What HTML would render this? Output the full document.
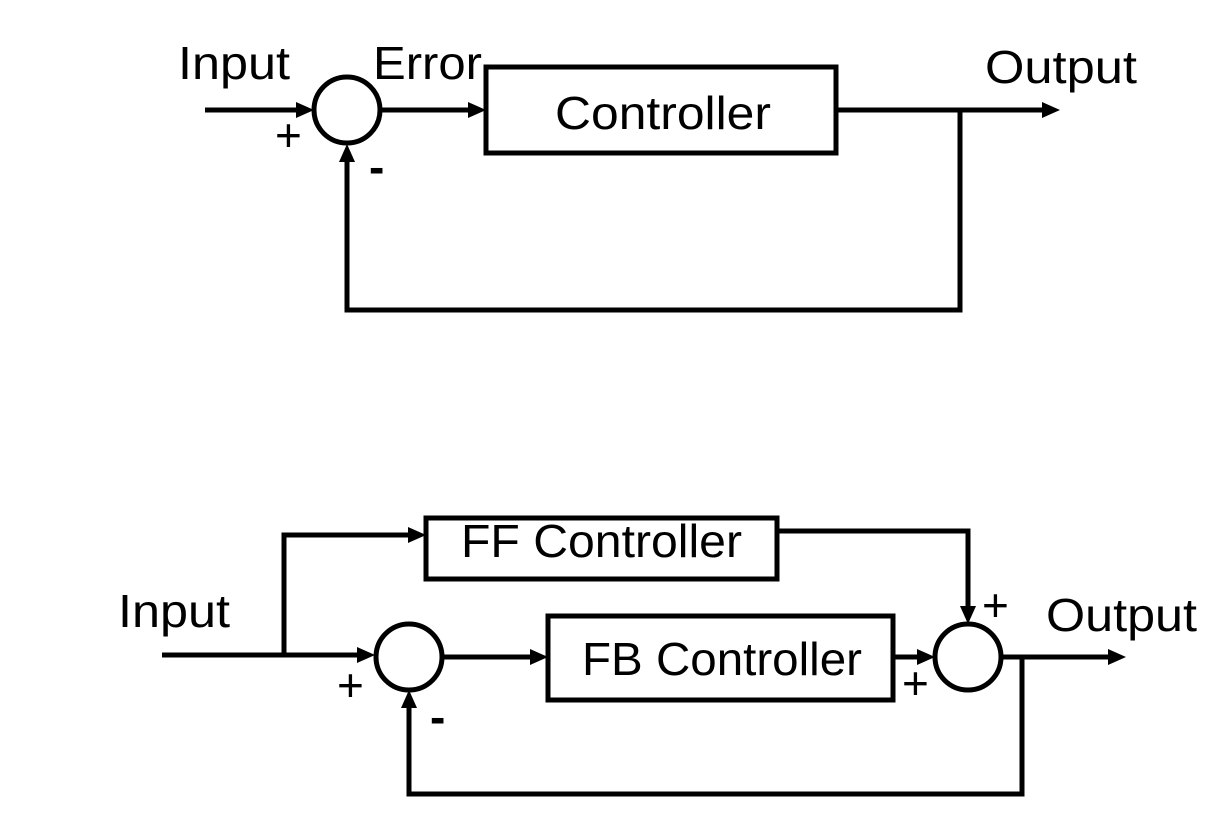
<!DOCTYPE html>
<html><head><meta charset="utf-8"><style>html,body{margin:0;padding:0;background:#fff}svg{display:block}</style></head>
<body>
<svg width="1232" height="816" viewBox="0 0 1232 816" xmlns="http://www.w3.org/2000/svg" font-family="Liberation Sans, sans-serif" font-size="46">
<g stroke="#000" stroke-width="5" fill="none">
<circle cx="347" cy="110" r="33"/>
<line x1="205" y1="110" x2="300" y2="110"/>
<line x1="380" y1="110" x2="470" y2="110"/>
<rect x="486" y="67" width="350" height="86"/>
<line x1="836" y1="110" x2="1045" y2="110"/>
<polyline points="960,110 960,310 347,310 347,158"/>
<line x1="162" y1="655" x2="360" y2="655"/>
<polyline points="284,655 284,535 410,535"/>
<rect x="426" y="518" width="351" height="61"/>
<polyline points="777,531 968,531 968,608"/>
<circle cx="409" cy="657" r="33"/>
<line x1="442" y1="657" x2="532" y2="657"/>
<rect x="548" y="616" width="345" height="84"/>
<line x1="893" y1="657" x2="920" y2="657"/>
<circle cx="968" cy="657" r="33"/>
<line x1="1001" y1="657" x2="1110" y2="657"/>
<polyline points="1022,657 1022,794 409,794 409,705"/>
</g>
<g fill="#000">
<polygon points="314,110 296,102 296,118"/>
<polygon points="486,110 468,102 468,118"/>
<polygon points="1060,110 1042,102 1042,118"/>
<polygon points="347,144 339,162 355,162"/>
<polygon points="375,655 357,647 357,663"/>
<polygon points="426,535 408,527 408,543"/>
<polygon points="968,624 960,606 976,606"/>
<polygon points="548,657 530,649 530,665"/>
<polygon points="935,657 917,649 917,665"/>
<polygon points="1126,657 1108,649 1108,665"/>
<polygon points="409,690 401,708 417,708"/>
</g>
<g fill="#000">
<text x="178" y="79" textLength="112" lengthAdjust="spacingAndGlyphs">Input</text>
<text x="373" y="79" textLength="109" lengthAdjust="spacingAndGlyphs">Error</text>
<text x="985" y="83" textLength="152" lengthAdjust="spacingAndGlyphs">Output</text>
<text x="555" y="129" textLength="216" lengthAdjust="spacingAndGlyphs">Controller</text>
<text x="275" y="151" font-size="46">+</text>
<text x="369" y="183" font-size="46" font-weight="bold">-</text>
<text x="118" y="627" textLength="112" lengthAdjust="spacingAndGlyphs">Input</text>
<text x="461" y="557" textLength="281" lengthAdjust="spacingAndGlyphs">FF Controller</text>
<text x="582" y="675" textLength="280" lengthAdjust="spacingAndGlyphs">FB Controller</text>
<text x="1046" y="631" textLength="151" lengthAdjust="spacingAndGlyphs">Output</text>
<text x="337" y="701" font-size="46">+</text>
<text x="430" y="733" font-size="46" font-weight="bold">-</text>
<text x="982" y="621" font-size="46">+</text>
<text x="902" y="699" font-size="46">+</text>
</g>
</svg>
</body></html>
